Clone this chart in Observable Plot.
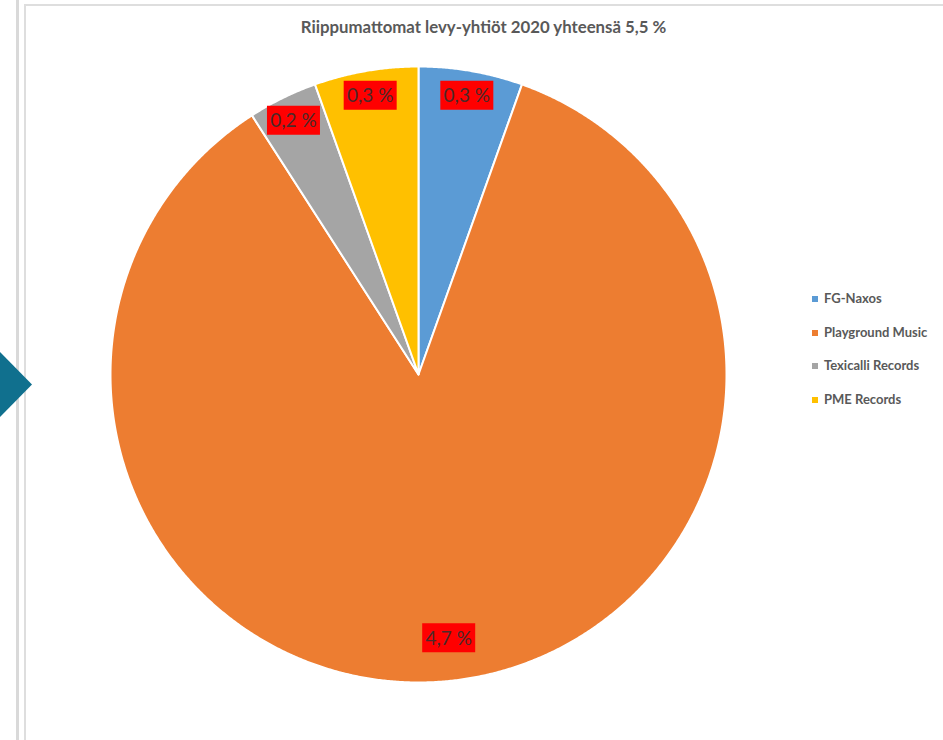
<!DOCTYPE html>
<html>
<head>
<meta charset="utf-8">
<script src="https://cdn.jsdelivr.net/npm/d3@7"></script>
<script src="https://cdn.jsdelivr.net/npm/@observablehq/plot@0.6"></script>
<style>
  html, body { margin: 0; padding: 0; background: #fff; }
  #wrap { position: relative; width: 943px; height: 740px; overflow: hidden; font-family: Lato, "Open Sans", sans-serif; }
  #chart { position: absolute; left: 0; top: 0; }
  .bar { position: absolute; left: 16px; top: 0; width: 3px; height: 740px; background: #d9d9d9; }
  .frameL { position: absolute; left: 24px; top: 4px; width: 1.5px; height: 736px; background: #dedede; }
  .frameT { position: absolute; left: 24px; top: 4px; width: 919px; height: 1.5px; background: #dedede; }
  .arrow { position: absolute; left: 0; top: 352px; width: 32px; height: 65px; background: #10708e; clip-path: polygon(0 0, 100% 50%, 0 100%); }
  #title { position: absolute; left: 24px; width: 919px; top: 16px; text-align: center; font-weight: 700; font-size: 16.8px; color: #595959; }
  #legend { position: absolute; left: 812px; top: 290px; }
  .li { position: absolute; left: 0; white-space: nowrap; font-size: 13px; font-weight: 700; color: #595959; }
  .sw { display: inline-block; width: 6px; height: 6px; margin-right: 6px; vertical-align: 1px; }
</style>
</head>
<body>
<div id="wrap">
  <div class="bar"></div>
  <div class="frameL"></div>
  <div class="frameT"></div>
  <div class="arrow"></div>
  <div id="chart"></div>
  <div id="title"></div>
  <div id="legend"></div>
</div>
<script>
const title = "Riippumattomat levy-yhtiöt 2020 yhteensä 5,5 %";
const categories = ["FG-Naxos", "Playground Music", "Texicalli Records", "PME Records"];
const values = [0.3, 4.7, 0.2, 0.3];
const labels = ["0,3 %", "4,7 %", "0,2 %", "0,3 %"];
const colors = ["#5b9bd5", "#ed7d31", "#a5a5a5", "#ffc000"];

document.getElementById("title").textContent = title;

// pie geometry (angles clockwise from top)
const arcs = d3.pie().sort(null).value(d => d.value)(categories.map((c, i) => ({key: c, value: values[i], label: labels[i]})));
const poly = [];
for (const a of arcs) {
  poly.push({key: a.data.key, x: 0, y: 0});
  const n = Math.max(2, Math.ceil((a.endAngle - a.startAngle) / 0.005));
  for (let k = 0; k <= n; k++) {
    const t = a.startAngle + (a.endAngle - a.startAngle) * k / n;
    poly.push({key: a.data.key, x: Math.sin(t), y: Math.cos(t)});
  }
}
const labelData = arcs.map(a => {
  const m = (a.startAngle + a.endAngle) / 2;
  const r = (a.endAngle - a.startAngle) > Math.PI ? 0.86 : 0.92;
  return {key: a.data.key, label: a.data.label, x: r * Math.sin(m), y: r * Math.cos(m)};
});
const boxSymbol = { draw(ctx) { ctx.rect(-26.5, -14.5, 53, 29); } };

const plot = Plot.plot({
  width: 943, height: 740,
  marginLeft: 110, marginRight: 217, marginTop: 66, marginBottom: 58,
  x: {domain: [-1, 1], axis: null},
  y: {domain: [-1, 1], axis: null},
  color: {domain: categories, range: colors},
  style: {background: "transparent", fontFamily: "Lato, 'Open Sans', sans-serif"},
  marks: [
    Plot.line(poly, {x: "x", y: "y", z: "key", fill: "key", stroke: "white", strokeWidth: 2, curve: "linear-closed", strokeLinejoin: "round"}),
    Plot.dot(labelData, {x: "x", y: "y", symbol: boxSymbol, fill: "#ff0000", stroke: "none", r: 5}),
    Plot.text(labelData, {x: "x", y: "y", text: "label", fill: "#4a2a2a", fontSize: 19, fontFamily: "Lato", textAnchor: "middle", dy: 1})
  ]
});
document.getElementById("chart").appendChild(plot);

const leg = document.getElementById("legend");
categories.forEach((c, i) => {
  const d = document.createElement("div");
  d.className = "li";
  d.style.top = (i * 33.7) + "px";
  d.innerHTML = `<span class="sw" style="background:${colors[i]}"></span>${c}`;
  leg.appendChild(d);
});
</script>
</body>
</html>
